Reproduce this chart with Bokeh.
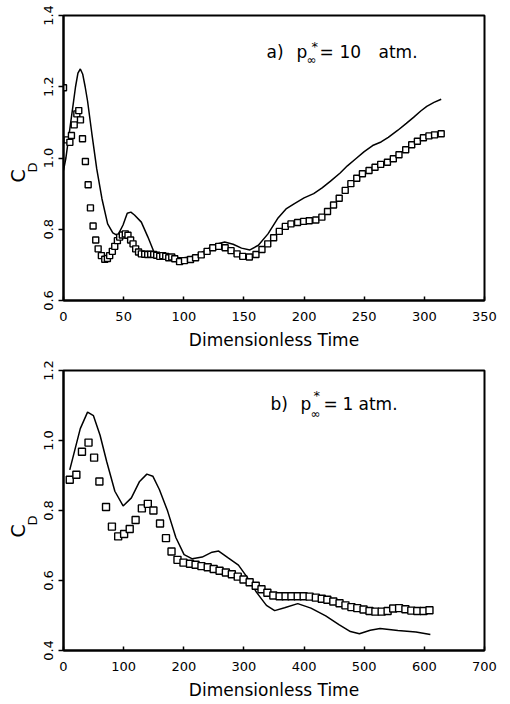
import numpy as np
from bokeh.plotting import figure
from bokeh.models import Range1d, FixedTicker, Label, Title, ColumnDataSource, PrintfTickFormatter
from bokeh.layouts import column
from bokeh.embed import file_html
from bokeh.resources import INLINE

FONT = "DejaVu Sans"

# ---------------- data: panel a) p = 10 atm ----------------
a_line_t = [0, 2, 4, 6, 8, 10, 12, 14, 16, 18, 20, 23.6, 27.6, 32, 36.7, 41, 45, 49.5, 53, 56, 59,
            64.7, 70.2, 75.2, 80, 85, 90, 95, 100, 110, 120, 127, 134, 141, 148, 155, 162, 170, 178,
            185, 192, 200, 208, 215, 222, 230, 236, 243, 250, 257, 264, 270, 278, 285, 291, 297,
            302, 308, 314]
a_line_cd = [0.965, 1.0, 1.05, 1.10, 1.15, 1.20, 1.238, 1.25, 1.235, 1.20, 1.16, 1.068, 0.97, 0.885,
             0.815, 0.79, 0.782, 0.812, 0.845, 0.848, 0.84, 0.82, 0.778, 0.736, 0.732, 0.73, 0.725,
             0.72, 0.72, 0.725, 0.745, 0.758, 0.764, 0.758, 0.747, 0.742, 0.755, 0.787, 0.83, 0.857,
             0.872, 0.888, 0.90, 0.916, 0.935, 0.958, 0.978, 0.998, 1.018, 1.035, 1.045, 1.058,
             1.078, 1.097, 1.114, 1.132, 1.145, 1.156, 1.165]

a_sq_t = [0, 3.0, 5.3, 6.6, 8.9, 11.1, 12.7, 14.1, 15.8, 18.2, 20.5, 22.4, 24.6, 26.8, 28.8, 31.5,
          34.3, 36.5, 38.4, 40.6, 42.6, 44.8, 46.7, 48.9, 51.4, 53.6, 55.8, 57.8, 60.0, 62.4, 64.7,
          67.5, 70, 72.5, 75, 77.5, 80, 82.5, 85, 87.5, 90, 92.5, 96.5, 100.6, 105.6, 109.8, 114.5,
          119.4, 124.1, 129, 134.4, 139.3, 144.3, 149, 154.5, 160, 165, 169.8, 174.7, 179.4, 184.4,
          189.1, 194.6, 199.6, 204.3, 209.8, 214.8, 219.5, 224.5, 229.2, 234.2, 238.9, 243.8, 248.5,
          254, 259, 263.7, 269.3, 274.2, 278.9, 284.5, 289.5, 294.2, 299.2, 303.8, 308.5, 314]
a_sq_cd = [1.197, 1.051, 1.044, 1.063, 1.093, 1.124, 1.133, 1.107, 1.054, 0.99, 0.925, 0.86, 0.809,
           0.770, 0.745, 0.726, 0.716, 0.718, 0.726, 0.738, 0.752, 0.768, 0.778, 0.784, 0.787, 0.783,
           0.770, 0.759, 0.745, 0.736, 0.731, 0.730, 0.729, 0.730, 0.729, 0.727, 0.724, 0.726, 0.724,
           0.72, 0.722, 0.717, 0.709, 0.712, 0.715, 0.72, 0.728, 0.738, 0.748, 0.752, 0.748, 0.74,
           0.731, 0.724, 0.722, 0.729, 0.743, 0.759, 0.776, 0.794, 0.808, 0.815, 0.819, 0.822, 0.824,
           0.826, 0.834, 0.85, 0.868, 0.887, 0.909, 0.928, 0.943, 0.956, 0.965, 0.974, 0.982, 0.988,
           0.998, 1.009, 1.023, 1.037, 1.047, 1.057, 1.062, 1.065, 1.068]

# ---------------- data: panel b) p = 1 atm ----------------
b_line_t = [10.4, 27.9, 40, 49.8, 60.8, 71.8, 85.4, 99.1, 112.9, 126.5, 138.6, 148.5, 159.4, 173,
            186.8, 200.5, 214.2, 230.6, 247, 258, 274.4, 290.9, 305.5, 321, 337.4, 351.1, 367.6,
            389.5, 411.4, 436, 458, 477.1, 492, 510, 526.4, 556, 586, 610]
b_line_cd = [0.916, 1.034, 1.081, 1.071, 1.015, 0.94, 0.855, 0.813, 0.836, 0.883, 0.904, 0.898,
             0.86, 0.799, 0.723, 0.674, 0.662, 0.667, 0.681, 0.684, 0.664, 0.644, 0.609, 0.566,
             0.529, 0.514, 0.522, 0.534, 0.521, 0.499, 0.474, 0.454, 0.448, 0.458, 0.463, 0.457,
             0.453, 0.446]

b_sq_t = [10.4, 21.4, 30.7, 41.6, 50.9, 59.7, 70.7, 80.5, 90.9, 100.8, 110.1, 119.9, 130.3, 140.2,
          149.5, 160.5, 170.4, 179.6, 189.5, 199.5, 210.3, 219.6, 229.4, 239.8, 249.7, 259.5, 270,
          279.9, 289.7, 299.3, 309.5, 319.6, 329.2, 339, 348.9, 359.3, 369.2, 379, 389.4, 399.3,
          409.2, 419.6, 429.4, 438.7, 448.6, 459, 468.8, 478.7, 488.5, 498.9, 508.8, 518.6, 529,
          538.9, 548.2, 558, 568.5, 578.3, 588.2, 598.6, 608.5]
b_sq_cd = [0.888, 0.902, 0.968, 0.994, 0.951, 0.883, 0.81, 0.754, 0.726, 0.733, 0.747, 0.773, 0.806,
           0.819, 0.80, 0.763, 0.721, 0.683, 0.659, 0.651, 0.648, 0.645, 0.641, 0.638, 0.633, 0.628,
           0.623, 0.618, 0.611, 0.603, 0.595, 0.585, 0.575, 0.565, 0.557, 0.555, 0.555, 0.555, 0.555,
           0.555, 0.554, 0.551, 0.548, 0.545, 0.54, 0.535, 0.529, 0.524, 0.521, 0.517, 0.513, 0.511,
           0.511, 0.513, 0.52, 0.521, 0.518, 0.514, 0.513, 0.513, 0.515]

a_xticks = [0, 50, 100, 150, 200, 250, 300, 350]
a_yticks = [0.6, 0.8, 1.0, 1.2, 1.4]
b_xticks = [0, 100, 200, 300, 400, 500, 600, 700]
b_yticks = [0.4, 0.6, 0.8, 1.0, 1.2]


def txt(p, x, y, s, size):
    p.add_layout(Label(x=x, y=y, x_units="screen", y_units="screen", text=s,
                       text_font=FONT, text_font_size=f"{size}px", text_color="black",
                       text_align="left", text_baseline="alphabetic"))


def side_title(p, s, size, offset, standoff):
    p.add_layout(Title(text=s, align="left", offset=offset, standoff=standoff,
                       text_font=FONT, text_font_size=f"{size}px", text_font_style="normal",
                       text_color="black"), "left")


def make_panel(xr, yr, xt, yt, width, height, bl, br, bt, bb, line_t, line_cd, sq_t, sq_cd, msize):
    p = figure(width=width, height=height, output_backend="svg", toolbar_location=None,
               x_range=Range1d(*xr), y_range=Range1d(*yr),
               min_border_left=bl, min_border_right=br, min_border_top=bt, min_border_bottom=bb)
    p.xgrid.visible = False
    p.ygrid.visible = False
    p.outline_line_color = "black"
    p.outline_line_width = 2
    p.outline_line_alpha = 1
    p.background_fill_color = "white"
    p.border_fill_color = "white"
    p.xaxis.ticker = FixedTicker(ticks=xt)
    p.yaxis.ticker = FixedTicker(ticks=yt)
    p.yaxis.formatter = PrintfTickFormatter(format="%.1f")
    for ax in (p.xaxis[0], p.yaxis[0]):
        ax.axis_line_color = "black"
        ax.axis_line_width = 2
        ax.major_tick_line_color = "black"
        ax.major_tick_line_width = 1.5
        ax.minor_tick_line_color = None
        ax.major_label_text_font = FONT
        ax.major_label_text_font_size = "13px"
        ax.major_label_text_color = "black"
        ax.axis_label_text_font = FONT
        ax.axis_label_text_font_style = "normal"
        ax.axis_label_text_color = "black"
    p.xaxis.major_tick_in = 4
    p.xaxis.major_tick_out = 0
    p.xaxis.major_label_standoff = 11
    p.xaxis.axis_label = "Dimensionless Time"
    p.xaxis.axis_label_text_font_size = "17px"
    p.xaxis.axis_label_standoff = 6
    p.yaxis.major_tick_in = 0
    p.yaxis.major_tick_out = 5
    p.yaxis.major_label_standoff = 6
    p.yaxis.major_label_orientation = "vertical"

    p.line(line_t, line_cd, line_color="black", line_width=1.5)
    src = ColumnDataSource(dict(t=sq_t, cd=sq_cd))
    p.scatter("t", "cd", source=src, marker="square", size=msize, fill_color="white",
              line_color="black", line_width=1.4)
    return p


pa = make_panel((0, 350), (0.6, 1.4), a_xticks, a_yticks, 500, 352, 62, 16, 15, 52,
                a_line_t, a_line_cd, a_sq_t, a_sq_cd, 6)
pb = make_panel((0, 700), (0.4, 1.2), b_xticks, b_yticks, 500, 350, 63, 11, 18, 49,
                b_line_t, b_line_cd, b_sq_t, b_sq_cd, 7)

# y-axis label C_D (rotated titles on the left side: subscript nearest the axis)
side_title(pa, "D", 13, 128, 1)
side_title(pa, "C", 19, 118, -12)
side_title(pb, "D", 13, 125, 1)
side_title(pb, "C", 19, 113, -12)

# panel annotations
txt(pa, 203, 249, "a)", 17)
txt(pa, 233, 249, "p", 17)
txt(pa, 248, 254, "*", 13)
txt(pa, 243, 241, "\u221e", 12)
txt(pa, 256, 249, "=", 17)
txt(pa, 276, 249, "10", 17)
txt(pa, 315, 249, "atm.", 17)

txt(pb, 207, 247, "b)", 17)
txt(pb, 237, 247, "p", 17)
txt(pb, 250, 255, "*", 13)
txt(pb, 247, 237, "\u221e", 12)
txt(pb, 260, 247, "=", 17)
txt(pb, 279, 247, "1", 17)
txt(pb, 295, 247, "atm.", 17)

layout = column(pa, pb)
open("out.html", "w").write(file_html(layout, INLINE))
